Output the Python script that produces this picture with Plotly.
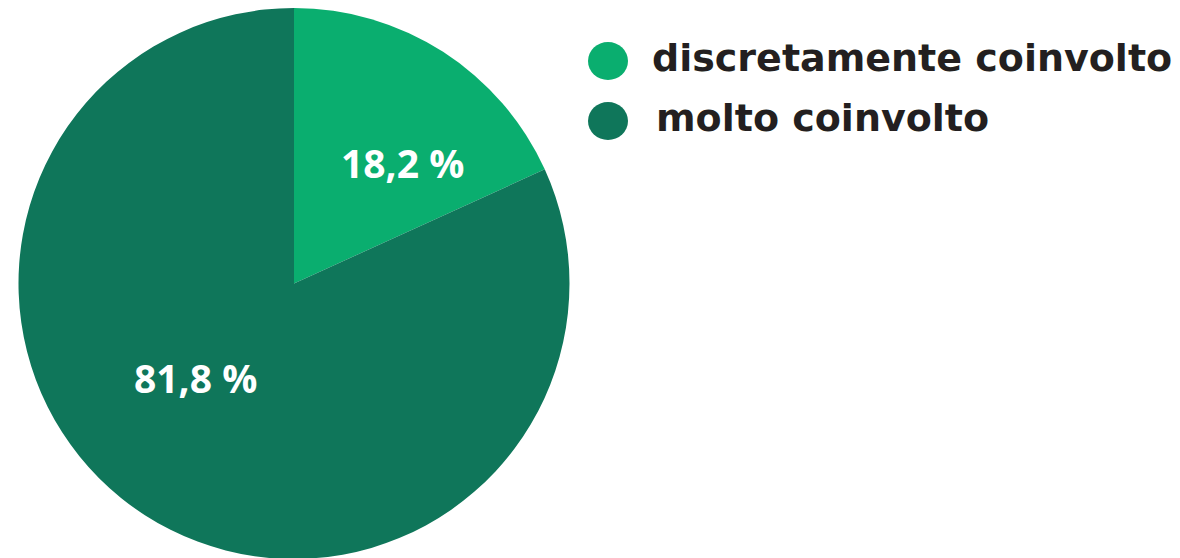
import plotly.graph_objects as go

categories = ["discretamente coinvolto", "molto coinvolto"]
values = [18.2, 81.8]
colors = ["#0AAE6F", "#0F765A"]
value_labels = ["18,2 %", "81,8 %"]

W, H = 1180, 558
OX, OY = 8, 8  # page body margin offset
LABEL_FONT = "Open Sans"
LEGEND_FONT = "DejaVu Sans"


def px(x):
    return (x - OX) / W


def py(y):
    return 1 - (y - OY) / H


fig = go.Figure()
fig.add_trace(go.Pie(
    labels=categories,
    values=values,
    textinfo="none",
    marker=dict(colors=colors, line=dict(width=0)),
    sort=False,
    direction="clockwise",
    rotation=0,
    showlegend=False,
    hoverinfo="label+percent",
    domain=dict(x=[px(18), px(570)], y=[py(559), 1]),
))

shapes = []
annotations = []

# slice value labels
label_pos = [(402, 162), (196, 377)]
for i, lab in enumerate(value_labels):
    lx, ly = label_pos[i]
    annotations.append(dict(text=lab, xref="paper", yref="paper",
                            x=px(lx), y=py(ly), xanchor="center", yanchor="middle",
                            showarrow=False,
                            font=dict(family=LABEL_FONT, size=39, color="white", weight="bold")))

# custom legend (large circular markers)
legend_y = [61, 121]
legend_text_x = [650, 654]
for i, cat in enumerate(categories):
    cy = legend_y[i]
    shapes.append(dict(type="circle", xref="paper", yref="paper",
                       x0=px(588), x1=px(628),
                       y0=py(cy + 19), y1=py(cy - 19),
                       fillcolor=colors[i], line=dict(width=0)))
    annotations.append(dict(text=cat, xref="paper", yref="paper",
                            x=px(legend_text_x[i]), y=py(cy - 3),
                            xanchor="left", yanchor="middle", showarrow=False,
                            font=dict(family=LEGEND_FONT, size=38, color="#231F20", weight="bold")))

fig.update_layout(
    width=W, height=H,
    margin=dict(l=0, r=0, t=0, b=0),
    paper_bgcolor="white",
    plot_bgcolor="white",
    shapes=shapes,
    annotations=annotations,
)

fig.write_html("out.html")
